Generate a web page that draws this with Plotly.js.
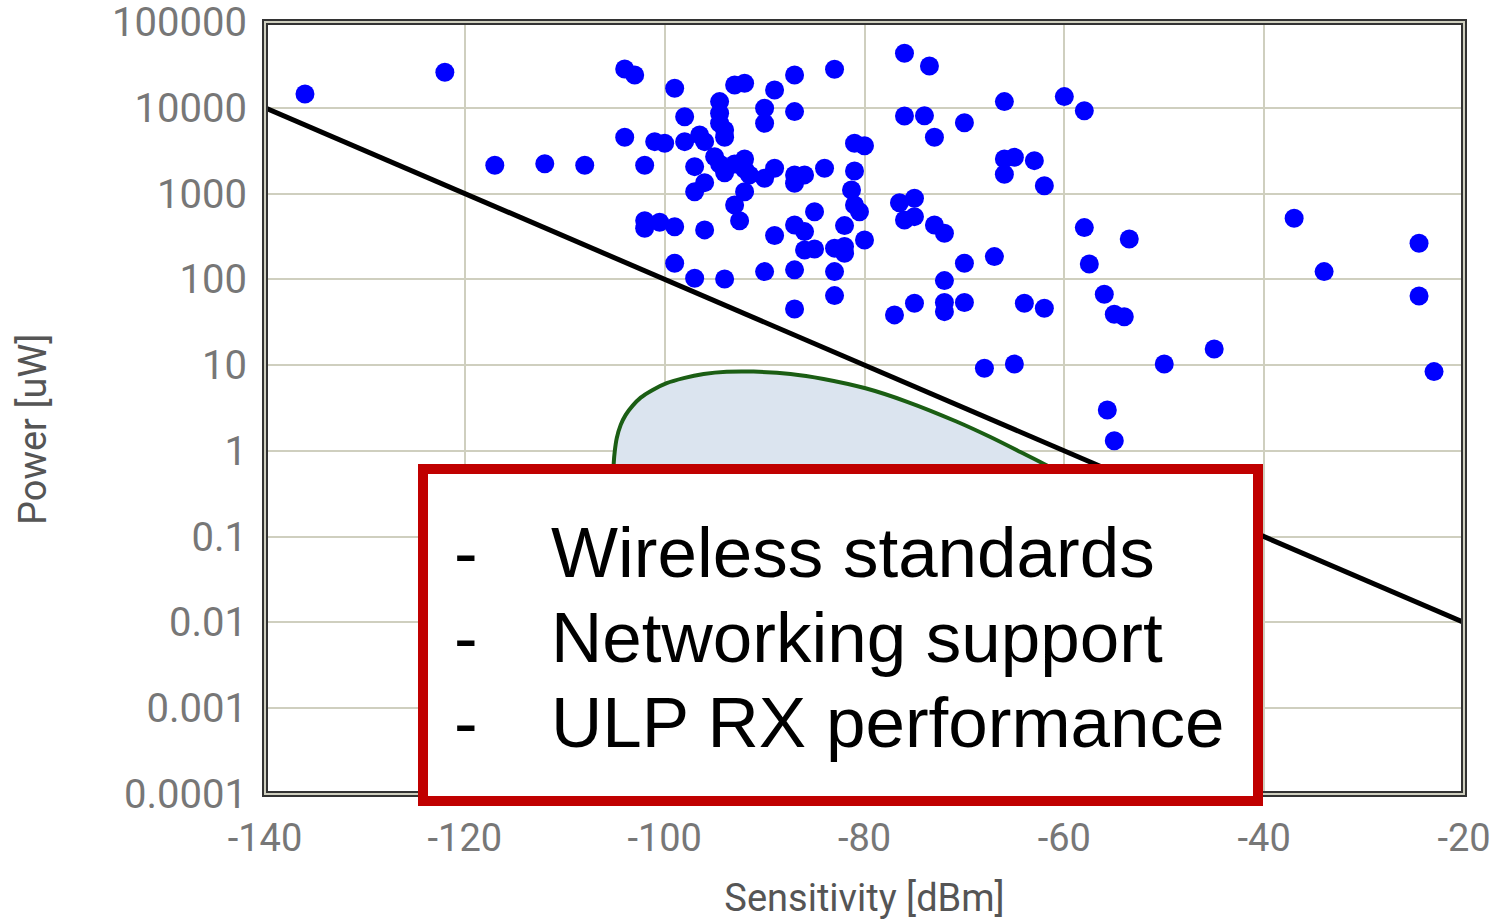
<!DOCTYPE html>
<html>
<head>
<meta charset="utf-8">
<script src="https://cdn.plot.ly/plotly-3.0.1.min.js"></script>
<style>html,body{margin:0;padding:0;background:#fff;}#chart{width:1494px;height:920px;}</style>
</head>
<body>
<div id="chart"></div>
<script>
// Receiver designs: sensitivity (dBm) vs power (uW)
const sensitivity = [
  -136, -122, -104, -103, -99, -104, -101, -100, -117, -112, -108, -102, -102, -102, -100.5, -99, -99,
  -93, -92, -89, -87, -83, -76,
  -94.5, -98, -94.5, -94.5, -94, -94,
  -90, -90, -87, -76,
  -98, -96.5, -96,
  -97, -96, -97,
  -95, -94.5, -94, -93, -92, -92, -91.5, -90, -89, -92,
  -87, -87, -86, -84,
  -81, -80, -81, -81.3, -81, -80.5,
  -76.5, -75, -76, -75,
  -93, -92.5, -96, -89, -87, -86, -85, -86, -85, -83, -82, -82, -82, -80,
  -97, -94, -90, -87, -83, -83, -87, -77, -75,
  -73.5, -66, -60, -58, -74, -70, -73, -66, -65, -63, -66, -62,
  -73, -72, -70, -67, -72, -72, -72, -70, -64, -62,
  -58, -53.5, -57.5, -56, -55, -54, -68, -65, -50, -55.7, -55,
  -37, -24.5, -34, -24.5, -45, -23
];
const powerUW = [
  14500, 26000, 28300, 24100, 16900, 4530, 4030, 3860, 2140, 2230, 2140, 2140, 483, 394, 462, 411, 154,
  18400, 19300, 16100, 24100, 28100, 43200,
  11800, 7870, 8630, 6600, 5500, 4530,
  9860, 6600, 9020, 8020,
  4030, 4820, 4030,
  2060, 1340, 1050,
  2690, 2210, 1750, 2210, 2530, 1920, 1650, 1510, 1970, 1050,
  1650, 1320, 1650, 1970,
  3860, 3610, 1830, 1100, 736, 615,
  783, 881, 492, 538,
  736, 483, 377, 324, 431, 360, 615, 220, 226, 231, 241, 201, 423, 288,
  103, 101, 123, 129, 123, 64.6, 45.2, 38.5, 52.6,
  30700, 11800, 13500, 9250, 8090, 6700, 4530, 2530, 2650, 2420, 1680, 1230,
  431, 344, 154, 184, 96.6, 53.6, 42, 53.6, 52.6, 46,
  401, 296, 151, 67, 39.2, 36.7, 9.2, 10.3, 10.3, 3.0, 1.31,
  515, 264, 123, 64, 15.4, 8.4
];

// Reference trend line (1 decade per 20 dB)
const lineX = [-140, -20];
const lineY = [10000, 0.01];

// Target region outline (lower part hidden behind the text box)
const regionX = [-105.2, -105.1, -105.0, -104.8, -104.4, -103.9, -103.2, -102.4, -101.2, -99.8, -98.1, -96.1, -93.8, -91.1,
                 -87.4, -84.1, -79.9, -75.8, -70.8, -67.4, -64.4, -61.7, -58.5, -56, -60, -80, -100, -105.2, -105.2];
const regionY = [0.3, 0.716, 0.98, 1.40, 2.01, 2.63, 3.37, 4.18, 5.14, 6.17, 7.06, 7.87, 8.36, 8.4,
                 7.89, 6.9, 5.37, 3.76, 2.2, 1.45, 0.97, 0.67, 0.4, 0.15, 0.02, 0.005, 0.01, 0.05, 0.3];

// Axis ticks
const xTicks = [-140, -120, -100, -80, -60, -40, -20];
const yTicks = [0.0001, 0.001, 0.01, 0.1, 1, 10, 100, 1000, 10000, 100000];
const yTickText = ['0.0001', '0.001', '0.01', '0.1', '1', '10', '100', '1000', '10000', '100000'];

const boxLines = ['Wireless standards', 'Networking support', 'ULP RX performance'];

const W = 1494, H = 920, L = 265, R = 30, T = 22, B = 126;
const pw = W - L - R, ph = H - T - B;
const px = p => (p - L) / pw;
const py = p => (H - B - p) / ph;

const traces = [
  {x: regionX, y: regionY, mode: 'lines', fill: 'toself', fillcolor: '#dbe4ef',
   line: {color: '#1b5e14', width: 4, shape: 'spline', smoothing: 0.8}, hoverinfo: 'skip', showlegend: false},
  {x: lineX, y: lineY, mode: 'lines', line: {color: '#000000', width: 5}, showlegend: false},
  {x: sensitivity, y: powerUW, mode: 'markers', marker: {color: '#0000ff', size: 19}, showlegend: false}
];

const annotations = [
  {xref: 'paper', yref: 'paper', x: px(33), y: py(429), text: 'Power [uW]', textangle: -90,
   showarrow: false, xanchor: 'center', yanchor: 'middle', font: {family: 'Roboto, sans-serif', size: 38, color: '#555555'}}
];
const lineCenters = [552, 637, 722];
boxLines.forEach((t, i) => {
  annotations.push({xref: 'paper', yref: 'paper', x: px(466), y: py(lineCenters[i]), text: '-', showarrow: false,
    xanchor: 'center', yanchor: 'middle', font: {family: 'Liberation Sans, Arial, sans-serif', size: 71, color: '#000000'}});
  annotations.push({xref: 'paper', yref: 'paper', x: px(549), y: py(lineCenters[i]), text: t, showarrow: false,
    xanchor: 'left', yanchor: 'middle', font: {family: 'Liberation Sans, Arial, sans-serif', size: 71, color: '#000000'}});
});

const layout = {
  width: W, height: H,
  margin: {l: L, r: R, t: T, b: B, pad: 0},
  paper_bgcolor: '#ffffff', plot_bgcolor: '#ffffff',
  showlegend: false,
  xaxis: {range: [-140, -20], tickvals: xTicks, ticktext: xTicks.map(String), showgrid: true, gridcolor: '#cfcfbf', gridwidth: 2,
          zeroline: false, showline: false, ticks: '', tickfont: {family: 'Roboto, sans-serif', size: 38, color: '#777777'},
          ticklabelstandoff: 18, ticklabeloverflow: 'allow',
          title: {text: 'Sensitivity [dBm]', font: {family: 'Roboto, sans-serif', size: 38, color: '#555555'}, standoff: 26}},
  yaxis: {type: 'log', range: [-4, 5], tickvals: yTicks, ticktext: yTickText, showgrid: true, gridcolor: '#cfcfbf', gridwidth: 2,
          zeroline: false, showline: false, ticks: '', tickfont: {family: 'Roboto, sans-serif', size: 40, color: '#777777'},
          ticklabelstandoff: 17, ticklabeloverflow: 'allow'},
  shapes: [
    {type: 'rect', xref: 'paper', yref: 'paper', x0: 0, x1: 1, y0: 0, y1: 1, line: {color: '#333333', width: 6}, layer: 'above'},
    {type: 'rect', xref: 'paper', yref: 'paper', x0: 0, x1: 1, y0: 0, y1: 1, line: {color: '#cfcfbf', width: 2}, layer: 'above'},
    {type: 'rect', xref: 'paper', yref: 'paper', x0: px(423), x1: px(1258), y0: py(801), y1: py(469),
     line: {color: '#c00000', width: 10}, fillcolor: '#ffffff', layer: 'above'}
  ],
  annotations: annotations
};

Plotly.newPlot('chart', traces, layout, {displayModeBar: false, staticPlot: true});
</script>
</body>
</html>
